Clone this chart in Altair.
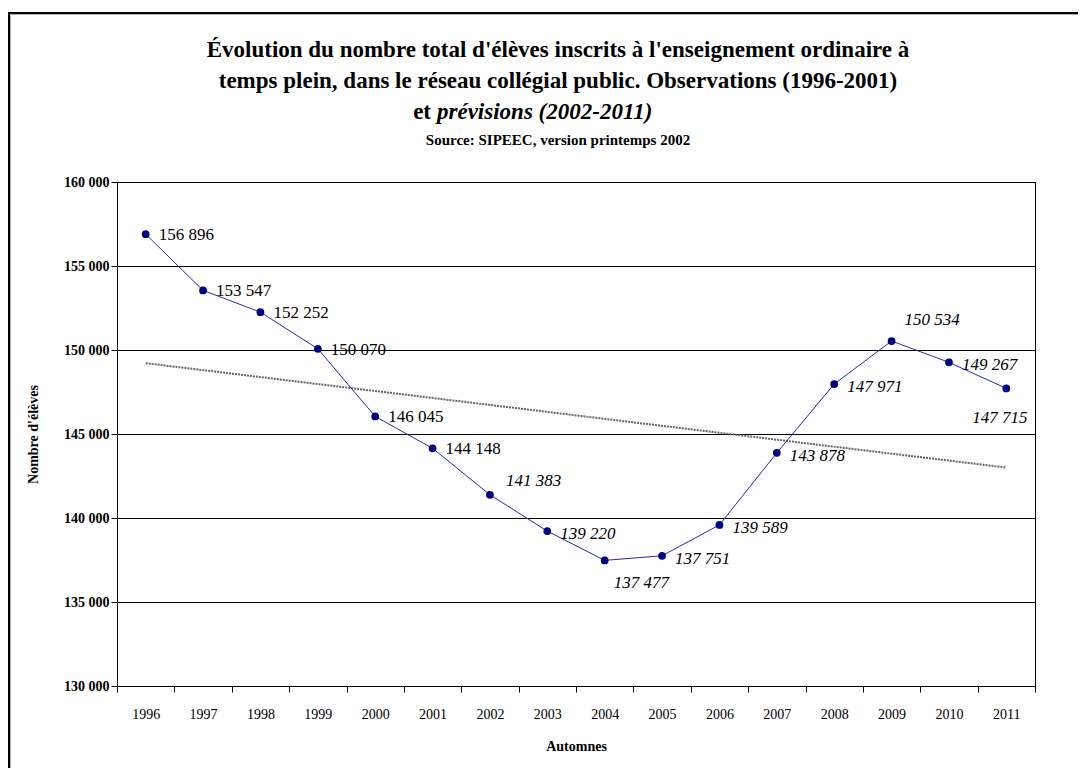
import altair as alt
import pandas as pd

# ---- data ----
years = list(range(1996, 2012))
eleves = [156896, 153547, 152252, 150070, 146045, 144148, 141383, 139220,
          137477, 137751, 139589, 143878, 147971, 150534, 149267, 147715]
periode = ["Observations"] * 6 + ["Prévisions"] * 10
y_ticks = [130000, 135000, 140000, 145000, 150000, 155000, 160000]
title_lines = [
    "Évolution du nombre total d'élèves inscrits à l'enseignement ordinaire à",
    "temps plein, dans le réseau collégial public. Observations (1996-2001)",
]
title_line3 = ["et", "prévisions (2002-2011)"]
subtitle = ["Source: SIPEEC, version printemps 2002"]
x_title = "Automnes"
y_title = "Nombre d'élèves"

df = pd.DataFrame({"annee": years, "eleves": eleves, "periode": periode})

W, H = 918, 504
FONT = "Liberation Serif"

x = alt.X(
    "annee:O",
    scale=alt.Scale(paddingInner=0, paddingOuter=0),
    axis=alt.Axis(
        title=x_title,
        tickBand="extent",
        labelAngle=0,
        labelPadding=15,
        labelFontSize=14,
        tickSize=6,
        grid=False,
        titleFontSize=14,
        titleFontWeight="bold",
        titlePadding=18,
    ),
)
y = alt.Y(
    "eleves:Q",
    scale=alt.Scale(domain=[130000, 160000], nice=False, zero=False),
    axis=alt.Axis(
        title=y_title,
        values=y_ticks,
        labelExpr="replace(format(datum.value, ','), ',', ' ')",
        labelFontSize=14,
        labelFontWeight="bold",
        labelPadding=2,
        tickSize=6,
        grid=True,
        gridColor="black",
        gridWidth=1,
        titleFontSize=14,
        titleFontWeight="bold",
        titlePadding=23,
    ),
)

base = alt.Chart(df)

frame = pd.DataFrame({"k": [0]})
border = alt.Chart(frame).mark_rect(
    fillOpacity=0, stroke="black", strokeWidth=2
).encode(x=alt.value(-108), x2=alt.value(1000), y=alt.value(-169), y2=alt.value(650))
border_shadow = alt.Chart(frame).mark_rect(
    fillOpacity=0, stroke="#b0b0b0", strokeWidth=1
).encode(x=alt.value(-106.5), x2=alt.value(1000), y=alt.value(-167.5), y2=alt.value(650))

trend = base.transform_regression("annee", "eleves").mark_line(
    color="#666666", strokeWidth=2, strokeDash=[2, 1]
).encode(x=x, y=y)

line = base.mark_line(color="#2a2ab0", strokeWidth=1).encode(x=x, y=y)
points = base.mark_circle(color="#000080", size=60, opacity=1).encode(x=x, y=y)

lab = base.transform_calculate(lab="replace(format(datum.eleves, ','), ',', ' ')")


def labels(filt, dx, dy, italic):
    return lab.transform_filter(filt).mark_text(
        font=FONT, fontSize=17, align="left", baseline="middle",
        dx=dx, dy=dy, fontStyle="italic" if italic else "normal", color="black"
    ).encode(x=x, y=y, text="lab:N")


lab_obs = labels("datum.periode == 'Observations'", 13, 1, False)
lab_prev = labels("datum.periode == 'Prévisions' && indexof([2002, 2004, 2009, 2011], datum.annee) < 0", 13, 3, True)
lab_2002 = labels("datum.annee == 2002", 16, -14, True)
lab_2009 = labels("datum.annee == 2009", 13, -21, True)
lab_2004 = labels("datum.annee == 2004", 9, 23, True)
lab_2011 = labels("datum.annee == 2011", -34, 30, True)

TS = 23
t1 = alt.Chart(pd.DataFrame({"t": title_lines[:1]})).mark_text(
    font=FONT, fontSize=TS, fontWeight="bold", align="center", baseline="middle"
).encode(text="t:N", x=alt.value(441), y=alt.value(-132))
t2 = alt.Chart(pd.DataFrame({"t": title_lines[1:2]})).mark_text(
    font=FONT, fontSize=TS, fontWeight="bold", align="center", baseline="middle"
).encode(text="t:N", x=alt.value(441), y=alt.value(-101))
t3a = alt.Chart(pd.DataFrame({"t": title_line3[:1]})).mark_text(
    font=FONT, fontSize=TS, fontWeight="bold", align="right", baseline="middle"
).encode(text="t:N", x=alt.value(314), y=alt.value(-70))
t3b = alt.Chart(pd.DataFrame({"t": title_line3[1:]})).mark_text(
    font=FONT, fontSize=TS, fontWeight="bold", fontStyle="italic", align="left", baseline="middle"
).encode(text="t:N", x=alt.value(320), y=alt.value(-70))
t4 = alt.Chart(pd.DataFrame({"t": subtitle})).mark_text(
    font=FONT, fontSize=15, fontWeight="bold", align="center", baseline="middle"
).encode(text="t:N", x=alt.value(441), y=alt.value(-42))

chart = alt.layer(
    border_shadow, border, trend, line, points,
    lab_obs, lab_prev, lab_2002, lab_2009, lab_2004, lab_2011,
    t1, t2, t3a, t3b, t4
).properties(
    width=W, height=H,
    autosize=alt.AutoSizeParams(type="none"),
    padding={"left": 109, "top": 174, "right": 43, "bottom": 82},
    background="white",
).configure_view(
    stroke="black", strokeWidth=1
).configure_axis(
    domainColor="black", tickColor="black", labelColor="black", titleColor="black",
    labelFont=FONT, titleFont=FONT, domainWidth=1, tickWidth=1,
)

chart.save("out.html", embed_options={"renderer": "svg", "actions": False})
